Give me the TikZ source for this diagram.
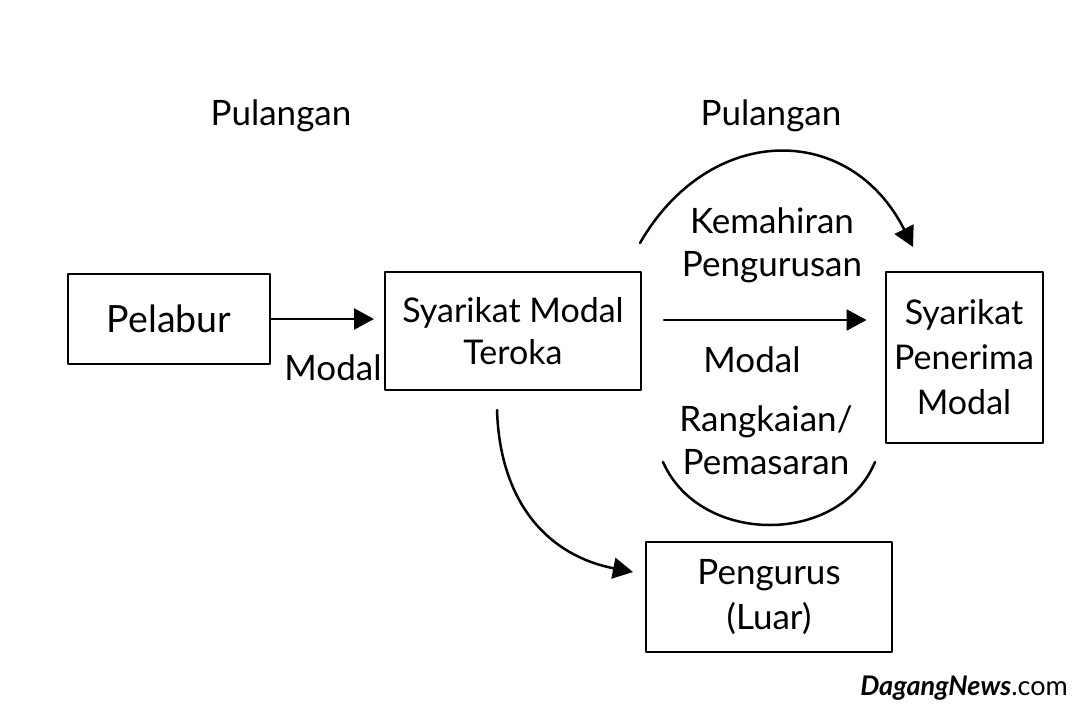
\documentclass[tikz,border=0pt]{standalone}
\usepackage{fontspec}
\setmainfont{Lato}
\usetikzlibrary{arrows.meta}

\begin{document}
\begin{tikzpicture}[x=1pt,y=-1pt,line cap=round,line join=round,
  box/.style={draw,line width=2pt,align=center,inner sep=0pt},
  lbl/.style={align=center,inner sep=0pt,font=\fontsize{35}{43}\selectfont},
  arr/.style={-{Triangle[length=20pt,width=21pt]},line width=2.5pt},
  arc/.style={line width=2.5pt}]
  \useasboundingbox (0,0) rectangle (1080,720);
  % boxes
  \node[box,minimum width=202pt,minimum height=90pt,font=\fontsize{37.5}{43}\selectfont] (pelabur) at (169,319) {Pelabur};
  \node[box,minimum width=256pt,minimum height=118pt,font=\fontsize{34}{42}\selectfont] (smt) at (513,331) {Syarikat Modal\\Teroka};
  \node[box,minimum width=157pt,minimum height=171pt,font=\fontsize{34}{45}\selectfont] (penerima) at (964,357) {Syarikat\\Penerima\\Modal};
  \node[box,minimum width=246pt,minimum height=110pt,font=\fontsize{35}{45}\selectfont] (pengurus) at (769,597) {Pengurus\\(Luar)};
  % labels
  \node[lbl] (pul1) at (281,116) {Pulangan};
  \node[lbl] (pul2) at (771,116) {Pulangan};
  \node[lbl] (modal1) at (333,368) {Modal};
  \node[lbl] (kemahiran) at (772,245) {Kemahiran\\Pengurusan};
  \node[lbl] (modal2) at (752,360) {Modal};
  \node[lbl] (rangkaian) at (766,440) {Rangkaian/\\Pemasaran};
  \node[anchor=east,inner sep=0pt,font=\fontsize{27}{30}\selectfont] (logo) at (1068,688) {{\bfseries\itshape DagangNews}.com};
  % curve ends
  \coordinate (topA) at (640,243);
  \coordinate (topB) at (913,247);
  \coordinate (botA) at (663,462);
  \coordinate (botB) at (875,462);
  \coordinate (curveA) at (497,410);
  \coordinate (curveB) at (633,572);
  % connectors
  \draw[arr,shorten >=10pt] (pelabur.east) -- (pelabur.east -| smt.west);
  \draw[arr,shorten <=22pt,shorten >=18pt] ([yshift=11pt]smt.east) -- ([yshift=11pt]smt.east -| penerima.west);
  \draw[arr] (topA) .. controls (710,122) and (850,122) .. (topB);
  \draw[arc] (botA) .. controls (700,546) and (840,546) .. (botB);
  \draw[arr] (curveA) .. controls (500,505) and (550,556) .. (curveB);
\end{tikzpicture}
\end{document}
